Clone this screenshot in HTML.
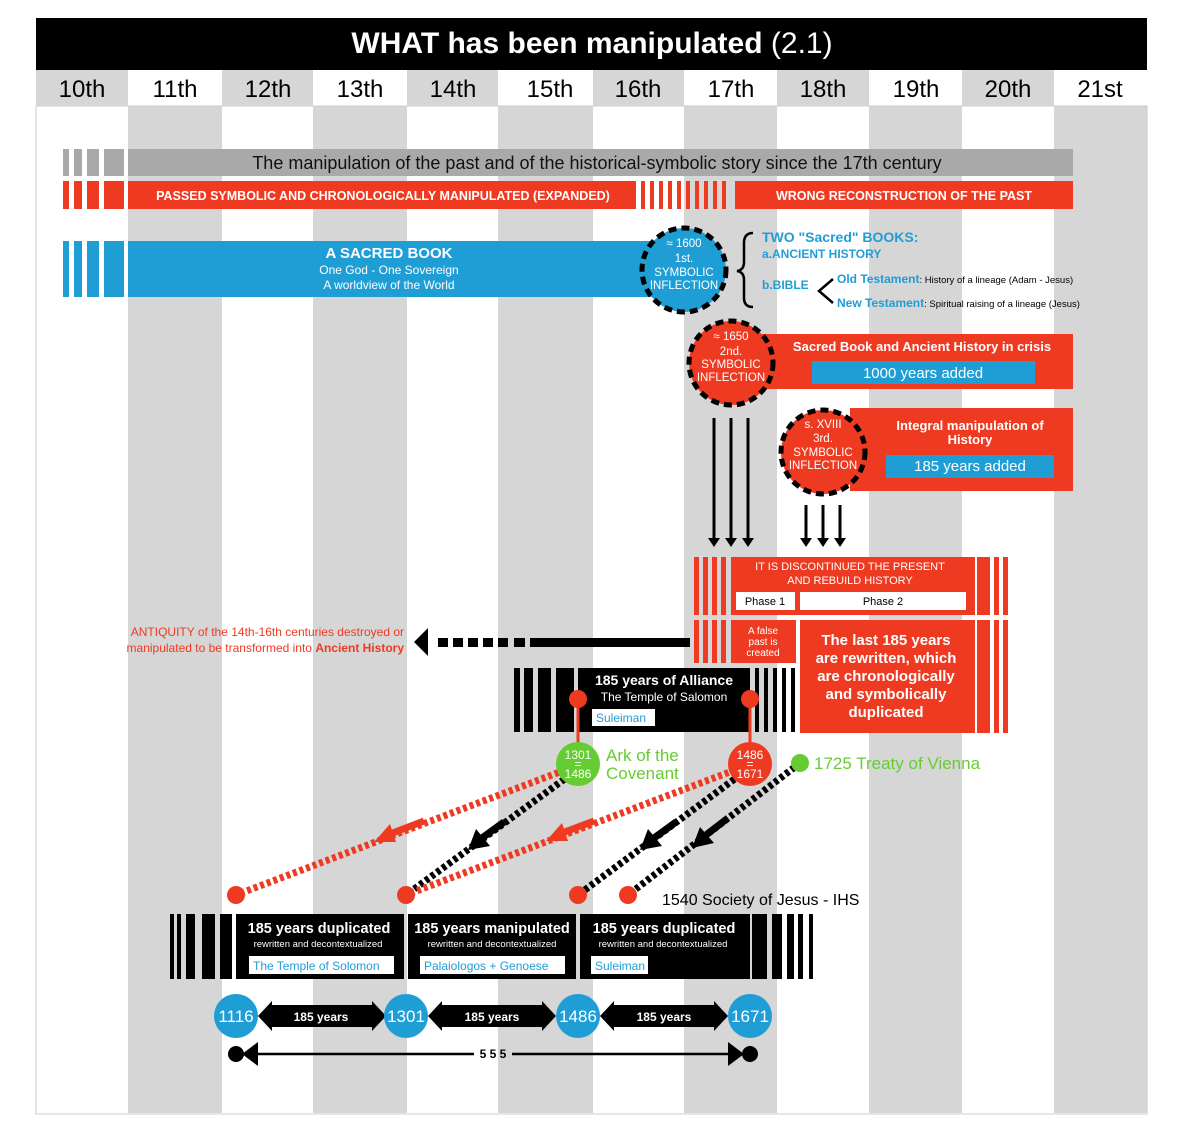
<!DOCTYPE html>
<html><head><meta charset="utf-8"><style>
html,body{margin:0;padding:0;background:#fff}
svg{display:block;font-family:"Liberation Sans",sans-serif}
</style></head><body>
<svg width="1192" height="1137" viewBox="0 0 1192 1137" xmlns="http://www.w3.org/2000/svg">
<defs>
<marker id="hb" viewBox="0 0 10 10" refX="5" refY="5" markerWidth="4" markerHeight="4" orient="auto"><path d="M0,0 L10,5 L0,10 z" fill="#000"/></marker>
</defs>
<rect width="1192" height="1137" fill="#fff"/>
<!-- body columns -->
<g fill="#d6d6d6">
<rect x="128" y="106" width="94" height="1007"/><rect x="313" y="106" width="94" height="1007"/>
<rect x="498" y="106" width="95" height="1007"/><rect x="684" y="106" width="93" height="1007"/>
<rect x="869" y="106" width="93" height="1007"/><rect x="1054" y="106" width="93" height="1007"/>
</g>
<rect x="36" y="106" width="1111" height="1008" fill="none" stroke="#ccc" stroke-width="1"/>
<!-- header -->
<rect x="36" y="18" width="1111" height="52" fill="#000"/>
<text x="592" y="53" font-size="30" font-weight="bold" fill="#fff" text-anchor="middle">WHAT has been manipulated <tspan font-weight="normal">(2.1)</tspan></text>
<g fill="#d6d6d6">
<rect x="36" y="70" width="92" height="36"/><rect x="222" y="70" width="91" height="36"/>
<rect x="407" y="70" width="91" height="36"/><rect x="593" y="70" width="91" height="36"/>
<rect x="777" y="70" width="92" height="36"/><rect x="962" y="70" width="92" height="36"/>
</g>
<g font-size="24" fill="#000" text-anchor="middle">
<text x="82" y="97">10th</text><text x="175" y="97">11th</text><text x="268" y="97">12th</text><text x="360" y="97">13th</text><text x="453" y="97">14th</text><text x="550" y="97">15th</text><text x="638" y="97">16th</text><text x="731" y="97">17th</text><text x="823" y="97">18th</text><text x="916" y="97">19th</text><text x="1008" y="97">20th</text><text x="1100" y="97">21st</text>
</g>
<!-- gray bar -->
<g fill="#a9a9a9">
<rect x="63" y="149" width="6" height="27"/><rect x="74" y="149" width="8" height="27"/><rect x="87" y="149" width="12" height="27"/><rect x="104" y="149" width="20" height="27"/>
<rect x="128" y="149" width="945" height="27"/>
</g>
<text x="597" y="169" font-size="18" fill="#111" text-anchor="middle">The manipulation of the past and of the historical-symbolic story since the 17th century</text>
<!-- red bar -->
<g fill="#ef3a22">
<rect x="63" y="181" width="6" height="28"/><rect x="74" y="181" width="8" height="28"/><rect x="87" y="181" width="12" height="28"/><rect x="104" y="181" width="20" height="28"/>
<rect x="128" y="181" width="508" height="28"/>
<rect x="641" y="181" width="4" height="28"/><rect x="650" y="181" width="4" height="28"/><rect x="659" y="181" width="4" height="28"/><rect x="668" y="181" width="4" height="28"/><rect x="677" y="181" width="4" height="28"/><rect x="686" y="181" width="4" height="28"/><rect x="695" y="181" width="4" height="28"/><rect x="704" y="181" width="4" height="28"/><rect x="713" y="181" width="4" height="28"/><rect x="722" y="181" width="4" height="28"/>
<rect x="735" y="181" width="338" height="28"/>
</g>
<text x="383" y="200" font-size="12.5" font-weight="bold" fill="#fff" text-anchor="middle">PASSED SYMBOLIC AND CHRONOLOGICALLY MANIPULATED (EXPANDED)</text>
<text x="904" y="200" font-size="12.5" font-weight="bold" fill="#fff" text-anchor="middle">WRONG RECONSTRUCTION OF THE PAST</text>
<!-- blue bar -->
<g fill="#1f9ed6">
<rect x="63" y="241" width="6" height="56"/><rect x="74" y="241" width="8" height="56"/><rect x="87" y="241" width="12" height="56"/><rect x="104" y="241" width="20" height="56"/>
<rect x="128" y="241" width="560" height="56"/>
</g>
<text x="389" y="258" font-size="15" font-weight="bold" fill="#fff" text-anchor="middle">A SACRED BOOK</text>
<text x="389" y="274" font-size="12" fill="#fff" text-anchor="middle">One God - One Sovereign</text>
<text x="389" y="289" font-size="12" fill="#fff" text-anchor="middle">A worldview of the World</text>
<!-- circle 1 -->
<circle cx="684" cy="270" r="42" fill="#1f9ed6" stroke="#000" stroke-width="5" stroke-dasharray="8 5"/>
<g font-size="11.5" fill="#fff" text-anchor="middle"><text x="684" y="247">≈ 1600</text><text x="684" y="262">1st.</text><text x="684" y="276">SYMBOLIC</text><text x="684" y="289">INFLECTION</text></g>
<!-- brace -->
<path d="M753,233 Q744,233 744,243 L744,262 Q744,270 737,271 Q744,272 744,280 L744,298 Q744,307 753,307" fill="none" stroke="#000" stroke-width="2.5"/>
<text x="762" y="242" font-size="14" font-weight="bold" fill="#1f9ed6">TWO "Sacred" BOOKS:</text>
<text x="762" y="258" font-size="12" font-weight="bold" fill="#1f9ed6">a.ANCIENT HISTORY</text>
<text x="762" y="289" font-size="12" font-weight="bold" fill="#1f9ed6">b.BIBLE</text>
<path d="M833,279 L819,291 L833,303" fill="none" stroke="#000" stroke-width="2.5"/>
<text x="837" y="283" font-size="12" font-weight="bold" fill="#1f9ed6">Old Testament<tspan fill="#000" font-weight="normal" font-size="9.5">: History of a lineage (Adam - Jesus)</tspan></text>
<text x="837" y="307" font-size="12" font-weight="bold" fill="#1f9ed6">New Testament<tspan fill="#000" font-weight="normal" font-size="9.5">: Spiritual raising of a lineage (Jesus)</tspan></text>
<!-- red box 2 -->
<rect x="760" y="334" width="313" height="55" fill="#ef3a22"/>
<text x="922" y="351" font-size="13" font-weight="bold" fill="#fff" text-anchor="middle">Sacred Book and Ancient History in crisis</text>
<rect x="812" y="361" width="223" height="23" fill="#1f9ed6"/>
<text x="923" y="378" font-size="15" fill="#fff" text-anchor="middle">1000 years added</text>
<circle cx="731" cy="363" r="42" fill="#ef3a22" stroke="#000" stroke-width="5" stroke-dasharray="8 5"/>
<g font-size="11.5" fill="#fff" text-anchor="middle"><text x="731" y="340">≈ 1650</text><text x="731" y="355">2nd.</text><text x="731" y="368">SYMBOLIC</text><text x="731" y="381">INFLECTION</text></g>
<!-- red box 3 -->
<rect x="850" y="408" width="223" height="83" fill="#ef3a22"/>
<text x="970" y="430" font-size="13" font-weight="bold" fill="#fff" text-anchor="middle">Integral manipulation of</text>
<text x="970" y="444" font-size="13" font-weight="bold" fill="#fff" text-anchor="middle">History</text>
<rect x="886" y="455" width="168" height="23" fill="#1f9ed6"/>
<text x="970" y="471" font-size="15" fill="#fff" text-anchor="middle">185 years added</text>
<circle cx="823" cy="452" r="42" fill="#ef3a22" stroke="#000" stroke-width="5" stroke-dasharray="8 5"/>
<g font-size="11.5" fill="#fff" text-anchor="middle"><text x="823" y="428">s. XVIII</text><text x="823" y="442">3rd.</text><text x="823" y="456">SYMBOLIC</text><text x="823" y="469">INFLECTION</text></g>
<!-- down arrows -->
<g stroke="#000" stroke-width="3">
<line x1="714" y1="418" x2="714" y2="540"/><line x1="731" y1="418" x2="731" y2="540"/><line x1="748" y1="418" x2="748" y2="540"/>
<line x1="806" y1="505" x2="806" y2="540"/><line x1="823" y1="505" x2="823" y2="540"/><line x1="840" y1="505" x2="840" y2="540"/>
</g>
<g fill="#000">
<path d="M708,538 h12 l-6,9z"/><path d="M725,538 h12 l-6,9z"/><path d="M742,538 h12 l-6,9z"/>
<path d="M800,538 h12 l-6,9z"/><path d="M817,538 h12 l-6,9z"/><path d="M834,538 h12 l-6,9z"/>
</g>
<!-- discontinued block -->
<g fill="#ef3a22">
<rect x="694" y="557" width="5" height="58"/><rect x="703" y="557" width="5" height="58"/><rect x="712" y="557" width="5" height="58"/><rect x="721" y="557" width="5" height="58"/>
<rect x="731" y="557" width="244" height="58"/>
<rect x="977" y="557" width="13" height="58"/><rect x="994" y="557" width="5" height="58"/><rect x="1003" y="557" width="5" height="58"/>
<rect x="694" y="620" width="5" height="43"/><rect x="703" y="620" width="5" height="43"/><rect x="712" y="620" width="5" height="43"/><rect x="721" y="620" width="5" height="43"/>
<rect x="731" y="620" width="65" height="43"/>
<rect x="800" y="620" width="175" height="113"/>
<rect x="977" y="620" width="13" height="113"/><rect x="994" y="620" width="5" height="113"/><rect x="1003" y="620" width="5" height="113"/>
</g>
<text x="850" y="570" font-size="11" fill="#fff" text-anchor="middle">IT IS DISCONTINUED THE PRESENT</text>
<text x="850" y="584" font-size="11" fill="#fff" text-anchor="middle">AND REBUILD HISTORY</text>
<rect x="736" y="592" width="59" height="18" fill="#fff"/><rect x="800" y="592" width="166" height="18" fill="#fff"/>
<text x="765" y="605" font-size="11" fill="#000" text-anchor="middle">Phase 1</text>
<text x="883" y="605" font-size="11" fill="#000" text-anchor="middle">Phase 2</text>
<g font-size="10" fill="#fff" text-anchor="middle"><text x="763" y="634">A false</text><text x="763" y="645">past is</text><text x="763" y="656">created</text></g>
<g font-size="15" font-weight="bold" fill="#fff" text-anchor="middle">
<text x="886" y="645">The last 185 years</text><text x="886" y="663">are rewritten, which</text><text x="886" y="681">are chronologically</text><text x="886" y="699">and symbolically</text><text x="886" y="717">duplicated</text>
</g>
<!-- dashed left arrow -->
<rect x="530" y="638" width="160" height="9" fill="#000"/>
<g fill="#000"><rect x="514" y="638" width="11" height="9"/><rect x="498" y="638" width="10" height="9"/><rect x="483" y="638" width="10" height="9"/><rect x="468" y="638" width="10" height="9"/><rect x="453" y="638" width="10" height="9"/><rect x="438" y="638" width="10" height="9"/>
<path d="M414,642 L428,628 L428,656z"/></g>
<text x="404" y="636" font-size="12" fill="#ef3a22" text-anchor="end">ANTIQUITY of the 14th-16th centuries destroyed or</text>
<text x="404" y="652" font-size="12" fill="#ef3a22" text-anchor="end">manipulated to be transformed into <tspan font-weight="bold">Ancient History</tspan></text>
<!-- alliance block -->
<g fill="#000">
<rect x="514" y="668" width="6" height="64"/><rect x="524" y="668" width="9" height="64"/><rect x="538" y="668" width="13" height="64"/><rect x="556" y="668" width="18" height="64"/>
<rect x="578" y="668" width="172" height="64"/>
<rect x="755" y="668" width="4" height="64"/><rect x="764" y="668" width="4" height="64"/><rect x="773" y="668" width="4" height="64"/><rect x="782" y="668" width="4" height="64"/><rect x="791" y="668" width="4" height="64"/>
</g>
<text x="664" y="685" font-size="14" font-weight="bold" fill="#fff" text-anchor="middle">185 years of Alliance</text>
<text x="664" y="701" font-size="12" fill="#fff" text-anchor="middle">The Temple of Salomon</text>
<rect x="592" y="709" width="63" height="17" fill="#fff"/>
<text x="596" y="722" font-size="12" fill="#1f9ed6">Suleiman</text>
<g stroke="#ef3a22" stroke-width="3"><line x1="578" y1="699" x2="578" y2="745"/><line x1="750" y1="699" x2="750" y2="745"/></g>
<circle cx="578" cy="699" r="9" fill="#ef3a22"/><circle cx="750" cy="699" r="9" fill="#ef3a22"/>
<!-- diagonals -->
<g fill="none" stroke-width="7" stroke-dasharray="4 3">
<line x1="565" y1="770" x2="236" y2="895" stroke="#ef3a22"/>
<line x1="570" y1="775" x2="406" y2="895" stroke="#000"/>
<line x1="735" y1="770" x2="406" y2="895" stroke="#ef3a22"/>
<line x1="740" y1="775" x2="578" y2="895" stroke="#000"/>
<line x1="800" y1="763" x2="628" y2="895" stroke="#000"/>
</g>
<g stroke-width="7" fill="none">
<line x1="424" y1="821" x2="390" y2="834" stroke="#ef3a22"/>
<line x1="504" y1="822" x2="482" y2="838" stroke="#000"/>
<line x1="594" y1="821" x2="562" y2="833" stroke="#ef3a22"/>
<line x1="676" y1="822" x2="654" y2="838" stroke="#000"/>
<line x1="728" y1="818" x2="706" y2="835" stroke="#000"/>
</g>
<g>
<path d="M374,842 L390,824 L396,842z" fill="#ef3a22"/>
<path d="M468,850 L476,829 L490,846z" fill="#000"/>
<path d="M546,841 L562,823 L568,841z" fill="#ef3a22"/>
<path d="M640,850 L648,829 L662,846z" fill="#000"/>
<path d="M692,848 L700,827 L714,843z" fill="#000"/>
</g>
<circle cx="578" cy="764" r="22" fill="#66cc33"/>
<g font-size="12" fill="#fff" text-anchor="middle"><text x="578" y="759">1301</text><text x="578" y="768">=</text><text x="578" y="778">1486</text></g>
<text x="606" y="761" font-size="17" fill="#66cc33">Ark of the</text>
<text x="606" y="779" font-size="17" fill="#66cc33">Covenant</text>
<circle cx="750" cy="764" r="22" fill="#ef3a22"/>
<g font-size="12" fill="#fff" text-anchor="middle"><text x="750" y="759">1486</text><text x="750" y="768">=</text><text x="750" y="778">1671</text></g>
<circle cx="800" cy="763" r="9" fill="#66cc33"/>
<text x="814" y="769" font-size="17" fill="#66cc33">1725 Treaty of Vienna</text>
<g fill="#ef3a22"><circle cx="236" cy="895" r="9"/><circle cx="406" cy="895" r="9"/><circle cx="578" cy="895" r="9"/><circle cx="628" cy="895" r="9"/></g>
<text x="662" y="905" font-size="16" fill="#000">1540 Society of Jesus - IHS</text>
<!-- bottom block -->
<g fill="#000">
<rect x="170" y="914" width="4" height="65"/><rect x="177" y="914" width="4" height="65"/><rect x="186" y="914" width="9" height="65"/><rect x="202" y="914" width="13" height="65"/><rect x="220" y="914" width="12" height="65"/>
<rect x="236" y="914" width="168" height="65"/><rect x="408" y="914" width="168" height="65"/><rect x="580" y="914" width="170" height="65"/>
<rect x="752" y="914" width="15" height="65"/><rect x="772" y="914" width="10" height="65"/><rect x="787" y="914" width="7" height="65"/><rect x="798" y="914" width="5" height="65"/><rect x="809" y="914" width="4" height="65"/>
</g>
<g font-size="14.5" font-weight="bold" fill="#fff" text-anchor="middle">
<text x="319" y="933">185 years duplicated</text><text x="492" y="933">185 years manipulated</text><text x="664" y="933">185 years duplicated</text>
</g>
<g font-size="9.5" fill="#fff" text-anchor="middle">
<text x="318" y="947">rewritten and decontextualized</text><text x="492" y="947">rewritten and decontextualized</text><text x="663" y="947">rewritten and decontextualized</text>
</g>
<rect x="249" y="956" width="145" height="18" fill="#fff"/><rect x="420" y="956" width="145" height="18" fill="#fff"/><rect x="591" y="956" width="57" height="18" fill="#fff"/>
<g font-size="12" fill="#1f9ed6"><text x="253" y="970">The Temple of Solomon</text><text x="424" y="970">Palaiologos + Genoese</text><text x="595" y="970">Suleiman</text></g>
<!-- year arrows -->
<g fill="#000">
<path d="M258,1016 L272,1001 L272,1005 L372,1005 L372,1001 L386,1016 L372,1031 L372,1027 L272,1027 L272,1031z"/>
<path d="M428,1016 L442,1001 L442,1005 L542,1005 L542,1001 L556,1016 L542,1031 L542,1027 L442,1027 L442,1031z"/>
<path d="M600,1016 L614,1001 L614,1005 L714,1005 L714,1001 L728,1016 L714,1031 L714,1027 L614,1027 L614,1031z"/>
</g>
<g font-size="12" font-weight="bold" fill="#fff" text-anchor="middle"><text x="321" y="1021">185 years</text><text x="492" y="1021">185 years</text><text x="664" y="1021">185 years</text></g>
<g fill="#1f9ed6"><circle cx="236" cy="1016" r="22"/><circle cx="406" cy="1016" r="22"/><circle cx="578" cy="1016" r="22"/><circle cx="750" cy="1016" r="22"/></g>
<g font-size="17" fill="#fff" text-anchor="middle"><text x="236" y="1022">1116</text><text x="406" y="1022">1301</text><text x="578" y="1022">1486</text><text x="750" y="1022">1671</text></g>
<!-- 555 -->
<circle cx="236" cy="1054" r="8" fill="#000"/><circle cx="750" cy="1054" r="8" fill="#000"/>
<line x1="252" y1="1054" x2="474" y2="1054" stroke="#000" stroke-width="2.5"/>
<line x1="512" y1="1054" x2="734" y2="1054" stroke="#000" stroke-width="2.5"/>
<path d="M242,1054 L258,1042 L258,1066z" fill="#000"/><path d="M744,1054 L728,1042 L728,1066z" fill="#000"/>
<text x="493" y="1058" font-size="12" font-weight="bold" fill="#000" text-anchor="middle">5 5 5</text>
</svg>
</body></html>
